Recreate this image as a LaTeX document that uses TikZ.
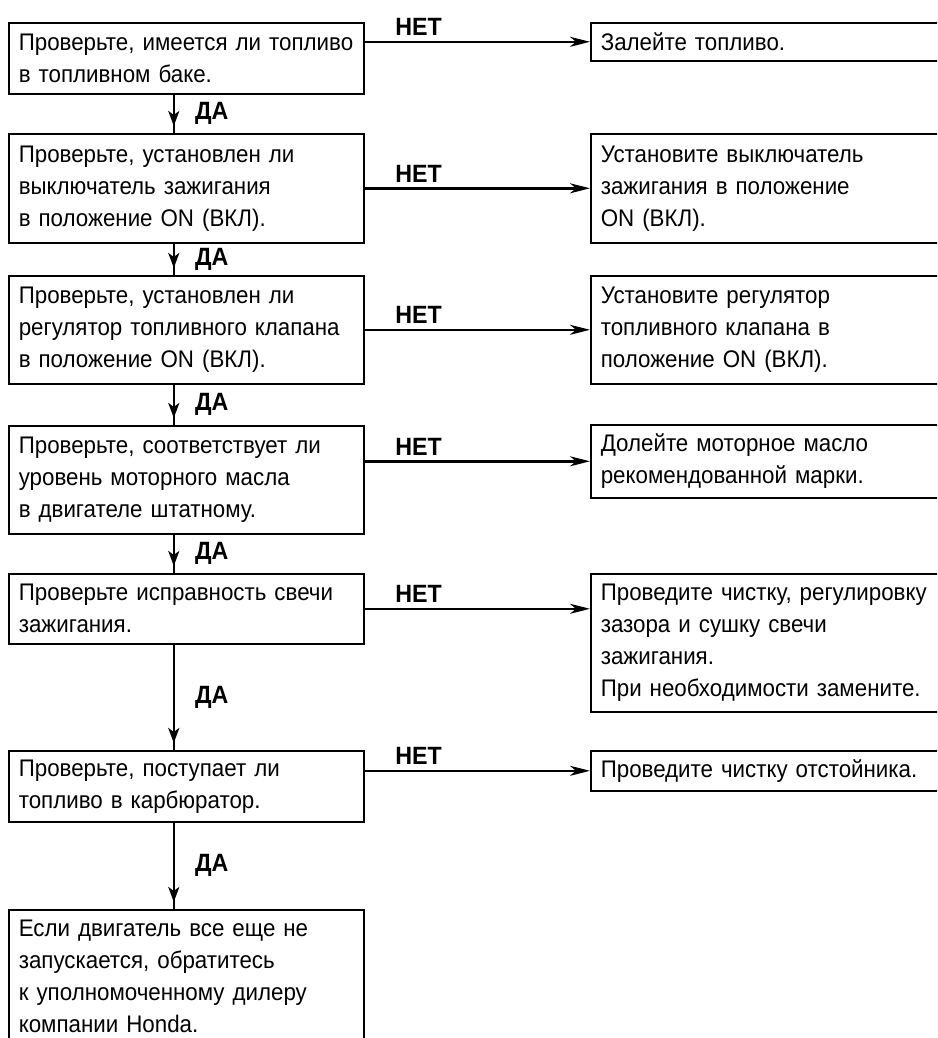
\documentclass[tikz,border=0pt]{standalone}
\usepackage{fontspec}
\setmainfont{Liberation Sans}[FakeStretch=0.93]
\usetikzlibrary{arrows.meta,decorations.markings}
\begin{document}
\begin{tikzpicture}[x=1pt,y=-1pt,
  box/.style={draw, line width=1.6pt, anchor=north west, align=left,
    inner xsep=10pt, inner ysep=0pt, text width=335pt,
    font=\fontsize{24}{32}\selectfont},
  rbox/.style={box, text width=345pt},
  downarr/.style={line width=2.5pt, postaction={decorate},
    decoration={markings, mark=at position -7pt with {\arrow{Stealth[length=15pt,width=11pt,inset=4pt]}}}},
  noarr/.style={line width=2.5pt, -{Stealth[length=20pt,width=10pt,inset=6pt]}},
  yes/.style={midway, anchor=west, xshift=20pt, inner sep=0pt, font=\bfseries\fontsize{25}{28}\selectfont},
  no/.style={pos=0.24, anchor=south, yshift=5pt, inner sep=0pt, font=\bfseries\fontsize{25}{28}\selectfont}
]
\useasboundingbox (0,0) rectangle (937,1038);
\clip (0,0) rectangle (937,1038);
% left column
\node[box, minimum height=71pt] (L1) at (8,22) {Проверьте, имеется ли топливо\\в топливном баке.};
\node[box, minimum height=109pt] (L2) at (8,133) {Проверьте, установлен ли\\выключатель зажигания\\в положение ON (ВКЛ).};
\node[box, minimum height=108pt] (L3) at (8,275) {Проверьте, установлен ли\\регулятор топливного клапана\\в положение ON (ВКЛ).};
\node[box, minimum height=108pt] (L4) at (8,425) {Проверьте, соответствует ли\\уровень моторного масла\\в двигателе штатному.};
\node[box, minimum height=70pt] (L5) at (8,573) {Проверьте исправность свечи\\зажигания.};
\node[box, minimum height=71pt] (L6) at (8,750) {Проверьте, поступает ли\\топливо в карбюратор.};
\node[box, minimum height=134pt] (L7) at (8,909) {Если двигатель все еще не\\запускается, обратитесь\\к уполномоченному дилеру\\компании Honda.};
% right column
\node[rbox, minimum height=38pt] (R1) at (590,22) {Залейте топливо.};
\node[rbox, minimum height=109pt] (R2) at (590,133) {Установите выключатель\\зажигания в положение\\ON (ВКЛ).};
\node[rbox, minimum height=108pt] (R3) at (590,275) {Установите регулятор\\топливного клапана в\\положение ON (ВКЛ).};
\node[rbox, minimum height=73pt] (R4) at (590,424) {Долейте моторное масло\\рекомендованной марки.};
\node[rbox, minimum height=138pt] (R5) at (590,573) {Проведите чистку, регулировку\\зазора и сушку свечи\\зажигания.\\При необходимости замените.};
\node[rbox, minimum height=40pt] (R6) at (590,750) {Проведите чистку отстойника.};
% yes connectors
\foreach \a/\b in {L1/L2, L2/L3, L3/L4, L4/L5, L5/L6, L6/L7}{
  \draw[downarr] ([xshift=-12.5pt]\a.south) -- node[yes]{ДА} ([xshift=-12.5pt]\b.north);
}
% no connectors
\draw[noarr] (L1.east |- R1.west) -- node[no]{НЕТ} (R1.west);
\draw[noarr] (L2.east |- R2.west) -- node[no]{НЕТ} (R2.west);
\draw[noarr] (L3.east |- R3.west) -- node[no]{НЕТ} (R3.west);
\draw[noarr] (L4.east |- R4.west) -- node[no]{НЕТ} (R4.west);
\draw[noarr] (L5.east) -- node[no]{НЕТ} (L5.east -| R5.west);
\draw[noarr] (L6.east |- R6.west) -- node[no]{НЕТ} (R6.west);
\end{tikzpicture}
\end{document}
